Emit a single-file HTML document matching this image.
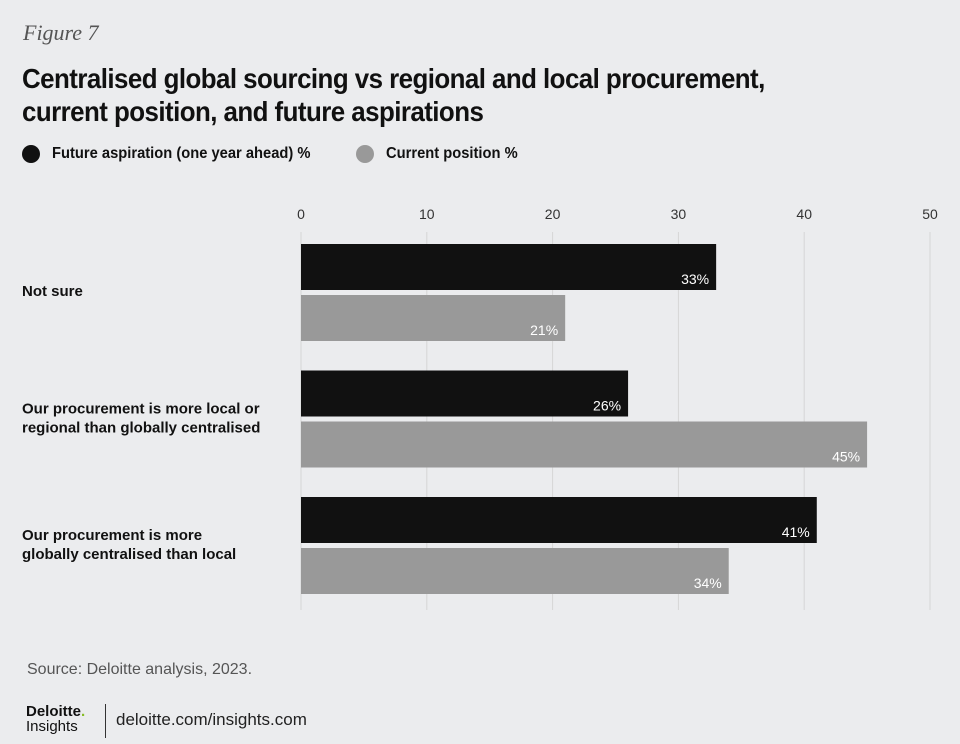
<!DOCTYPE html>
<html><head><meta charset="utf-8"><style>
body{margin:0;width:960px;height:744px;background:#ebecee;font-family:"Liberation Sans",sans-serif;position:relative;overflow:hidden}
.a{position:absolute;margin:0}
.sq{display:inline-block;transform:scaleX(0.92);transform-origin:left center;white-space:nowrap}
</style></head><body>
<div class="a" style="left:23px;top:20px;font-family:'Liberation Serif',serif;font-style:italic;font-size:22px;color:#555">Figure 7</div>
<div class="a" style="left:22px;top:62px;font-weight:bold;font-size:28px;line-height:33px;color:#111;letter-spacing:-0.6px;transform:scaleX(0.925);transform-origin:left top;white-space:nowrap">Centralised global sourcing vs regional and local procurement,<br>current position, and future aspirations</div>
<div class="a" style="left:22px;top:145px;font-weight:bold;font-size:16px;color:#111;display:flex;align-items:center"><span style="width:18px;height:18px;border-radius:50%;background:#111;margin-right:12px"></span><span class="sq">Future aspiration (one year ahead) %</span></div>
<div class="a" style="left:356px;top:145px;font-weight:bold;font-size:16px;color:#111;display:flex;align-items:center"><span style="width:18px;height:18px;border-radius:50%;background:#999;margin-right:12px"></span><span class="sq">Current position %</span></div>
<svg class="a" style="left:0;top:0" width="960" height="744" id="chart"></svg>
<div class="a" style="left:27px;top:661px;font-size:16px;color:#555">Source: Deloitte analysis, 2023.</div>
<div class="a" style="left:26px;top:704px;font-size:15px;line-height:15px;color:#111"><b>Deloitte<span style="color:#86bc25">.</span></b><br><span style="font-size:15px">Insights</span></div>
<div class="a" style="left:105px;top:704px;width:1px;height:34px;background:#333"></div>
<div class="a" style="left:116px;top:710px;font-size:17px;color:#222">deloitte.com/insights.com</div>
<script>
const categories=["Not sure","Our procurement is more local or\nregional than globally centralised","Our procurement is more\nglobally centralised than local"];
const futureValues=[33,26,41];
const currentValues=[21,45,34];
const ticks=[0,10,20,30,40,50];
const svg=document.getElementById('chart');
const NS='http://www.w3.org/2000/svg';
const x=v=>301+v*(629/50);
function mk(t,a){const e=document.createElementNS(NS,t);for(const k in a)e.setAttribute(k,a[k]);svg.appendChild(e);return e;}
ticks.forEach(t=>{
 const g=mk('line',{x1:x(t),x2:x(t),y1:232,y2:610,stroke:'#d6d6d6','stroke-width':1});
 
 
 const l=mk('text',{x:x(t),y:219,'text-anchor':'middle','font-size':14,fill:'#333','font-family':'Liberation Sans, sans-serif'});
 l.textContent=t;
 
 
});
categories.forEach((c,i)=>{
 const y0=244+i*126.5;
 [[futureValues[i],'#111',y0],[currentValues[i],'#999',y0+51]].forEach(([v,col,y],j)=>{
  const r=mk('rect',{x:x(0),y:y,width:x(v)-x(0),height:46,fill:col});
  
  
  const t=mk('text',{x:x(v)-7,y:y+40,'text-anchor':'end','font-size':14,fill:'#fff','font-family':'Liberation Sans, sans-serif'});
  t.textContent=v+'%';
  
  
 });
 const lines=c.split('\n');
 const t=mk('text',{x:22,y:y0+52-(lines.length-1)*9,'font-size':15,'font-weight':'bold',fill:'#111','font-family':'Liberation Sans, sans-serif'});
 
 
 lines.forEach((ln,k)=>{const s=document.createElementNS(NS,'tspan');s.setAttribute('x',22);s.setAttribute('dy',k?19:0);s.textContent=ln;t.appendChild(s);});
});
</script>
</body></html>
